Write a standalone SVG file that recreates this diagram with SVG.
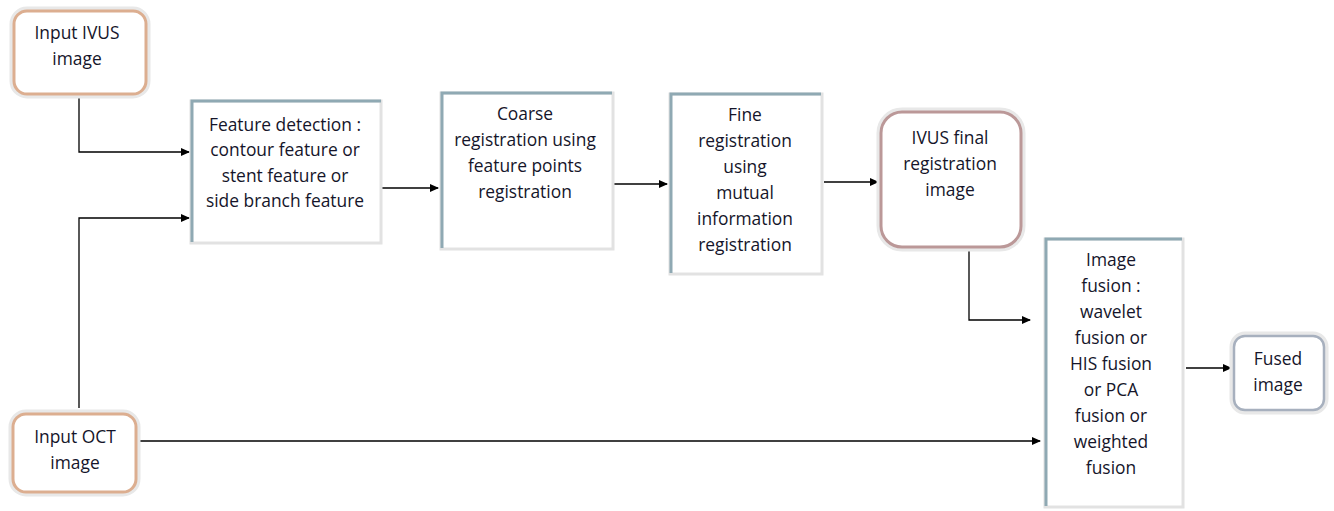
<svg xmlns="http://www.w3.org/2000/svg" width="1334" height="511" viewBox="0 0 1334 511">
<style>
.t{font-family:"Open Sans","Liberation Sans",Arial,sans-serif;font-size:17.4px;fill:#15152a;text-anchor:middle}
.glow{fill:none;stroke:#e8e8e8;stroke-width:7}
.sqedge{fill:none;stroke:#8fa9b3;stroke-width:3}
.c{fill:none;stroke:#000;stroke-width:1.3}
</style>
<defs>
<marker id="ah" markerWidth="9" markerHeight="8" refX="8" refY="4" orient="auto" markerUnits="userSpaceOnUse">
<path d="M0,0 L9,4 L0,8 Z" fill="#000"/>
</marker>
</defs>
<rect width="1334" height="511" fill="#fff"/>

<g id="connectors">
<path class="c" d="M79,97 V152 H189" marker-end="url(#ah)"/>
<path class="c" d="M79,408 V218 H189" marker-end="url(#ah)"/>
<path class="c" d="M381,188 H438" marker-end="url(#ah)"/>
<path class="c" d="M608,184 H667" marker-end="url(#ah)"/>
<path class="c" d="M824,182 H878" marker-end="url(#ah)"/>
<path class="c" d="M969,248 V320 H1030" marker-end="url(#ah)"/>
<path class="c" d="M138,441 H1040" marker-end="url(#ah)"/>
<path class="c" d="M1186,368 H1231" marker-end="url(#ah)"/>
</g>

<g id="input-ivus">
<rect class="glow" x="13" y="10" width="134" height="85" rx="14"/>
<rect x="14" y="11" width="132" height="83" rx="13" fill="#fff" stroke="#dcae90" stroke-width="3"/>
<text class="t" x="77" y="39">Input IVUS</text>
<text class="t" x="77" y="65">image</text>
</g>

<g id="feature-detection">
<rect x="191" y="101" width="190" height="142" fill="#fff" stroke="#e2e2e2" stroke-width="3"/>
<path class="sqedge" d="M192,242 V101 H381"/>
<text class="t" x="285" y="131">Feature detection :</text>
<text class="t" x="285" y="156">contour feature or</text>
<text class="t" x="285" y="182">stent feature or</text>
<text class="t" x="285" y="207">side branch feature</text>
</g>

<g id="coarse-registration">
<rect x="441" y="93" width="172" height="156" fill="#fff" stroke="#e2e2e2" stroke-width="3"/>
<path class="sqedge" d="M442,248 V93 H612"/>
<text class="t" x="525" y="120">Coarse</text>
<text class="t" x="525" y="146">registration using</text>
<text class="t" x="525" y="172">feature points</text>
<text class="t" x="525" y="198">registration</text>
</g>

<g id="fine-registration">
<rect x="670" y="94" width="152" height="180" fill="#fff" stroke="#e2e2e2" stroke-width="3"/>
<path class="sqedge" d="M671,273 V94 H821"/>
<text class="t" x="745" y="121">Fine</text>
<text class="t" x="745" y="147">registration</text>
<text class="t" x="745" y="173">using</text>
<text class="t" x="745" y="199">mutual</text>
<text class="t" x="745" y="225">information</text>
<text class="t" x="745" y="251">registration</text>
</g>

<g id="ivus-final">
<rect class="glow" x="880" y="111" width="142" height="137" rx="22"/>
<rect x="881" y="112" width="140" height="135" rx="21" fill="#fff" stroke="#bb9898" stroke-width="3"/>
<text class="t" x="950" y="144">IVUS final</text>
<text class="t" x="950" y="170">registration</text>
<text class="t" x="950" y="196">image</text>
</g>

<g id="image-fusion">
<rect x="1045" y="239" width="138" height="268" fill="#fff" stroke="#e2e2e2" stroke-width="3"/>
<path class="sqedge" d="M1046,506 V239 H1182"/>
<text class="t" x="1111" y="266">Image</text>
<text class="t" x="1111" y="292">fusion :</text>
<text class="t" x="1111" y="318">wavelet</text>
<text class="t" x="1111" y="344">fusion or</text>
<text class="t" x="1111" y="370">HIS fusion</text>
<text class="t" x="1111" y="396">or PCA</text>
<text class="t" x="1111" y="422">fusion or</text>
<text class="t" x="1111" y="448">weighted</text>
<text class="t" x="1111" y="474">fusion</text>
</g>

<g id="fused-image">
<rect class="glow" x="1233" y="335" width="92" height="76" rx="12"/>
<rect x="1234" y="336" width="90" height="74" rx="11" fill="#fff" stroke="#a7b0be" stroke-width="2.5"/>
<text class="t" x="1278" y="365">Fused</text>
<text class="t" x="1278" y="391">image</text>
</g>

<g id="input-oct">
<rect class="glow" x="12" y="413" width="125" height="80" rx="14"/>
<rect x="13" y="414" width="123" height="78" rx="13" fill="#fff" stroke="#dcae90" stroke-width="3"/>
<text class="t" x="75" y="443">Input OCT</text>
<text class="t" x="75" y="469">image</text>
</g>
</svg>
